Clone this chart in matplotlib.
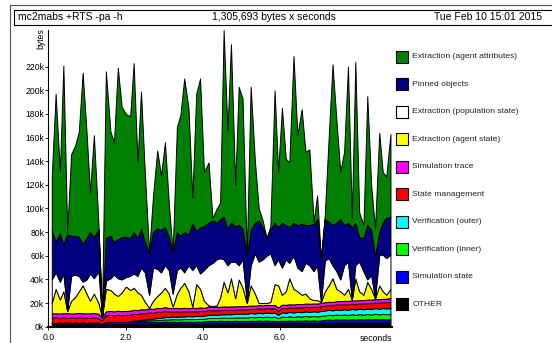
import numpy as np
import matplotlib.pyplot as plt
from matplotlib.patches import Rectangle
from matplotlib.lines import Line2D

plt.rcParams['font.family'] = ['Liberation Sans', 'DejaVu Sans']

# sample times (seconds)
times = [0.09, 0.19, 0.30, 0.39, 0.49, 0.59, 0.69, 0.79, 0.89, 0.99,
         1.08, 1.18, 1.30, 1.39, 1.49, 1.61, 1.70, 1.80, 1.90, 2.01,
         2.12, 2.21, 2.31, 2.40, 2.50, 2.61, 2.71, 2.82, 2.92, 3.02,
         3.12, 3.22, 3.33, 3.42, 3.52, 3.63, 3.73, 3.83, 3.93, 4.03,
         4.15, 4.25, 4.36, 4.45, 4.54, 4.64, 4.73, 4.84, 4.93, 5.03,
         5.14, 5.24, 5.35, 5.45, 5.55, 5.65, 5.75, 5.86, 5.95, 6.05,
         6.15, 6.24, 6.35, 6.45, 6.56, 6.66, 6.76, 6.87, 6.96, 7.06,
         7.16, 7.26, 7.36, 7.46, 7.56, 7.66, 7.76, 7.86, 7.95, 8.05,
         8.16, 8.26, 8.36, 8.46, 8.57, 8.66, 8.75, 8.86]

# small bottom bands, thickness in kbytes
other = [2.0, 2.0, 2.0, 2.0, 2.0, 2.0, 2.0, 2.0, 2.0, 2.0,
         2.0, 2.0, 2.0, 1.5, 2.5, 2.5, 2.5, 2.5, 2.5, 2.5,
         2.5, 2.5, 2.5, 2.5, 2.5, 2.5, 2.5, 2.5, 2.5, 2.5,
         2.5, 2.5, 2.5, 2.5, 2.5, 2.5, 2.5, 2.5, 2.5, 2.5,
         3.0, 3.0, 3.0, 3.0, 3.0, 3.0, 3.0, 3.0, 3.0, 3.0,
         3.0, 3.0, 3.0, 3.0, 3.0, 3.0, 3.0, 3.0, 3.0, 3.0,
         3.0, 3.0, 3.0, 3.0, 3.0, 3.0, 3.0, 3.0, 3.0, 3.0,
         3.5, 3.5, 3.5, 3.5, 3.5, 3.5, 3.5, 3.5, 3.5, 3.5,
         3.5, 3.5, 3.5, 3.5, 3.5, 3.5, 3.5, 3.5]
sim_state = [1.5, 1.0, 1.6, 1.2, 1.8, 1.0, 1.6, 1.2, 1.7, 1.1,
             1.6, 1.2, 1.5, 0.8, 1.5, 1.7, 1.4, 1.8, 1.5, 1.7,
             1.5, 1.8, 1.4, 1.7, 1.5, 1.9, 1.5, 1.8, 1.6, 1.9,
             1.6, 1.9, 1.5, 1.8, 1.6, 1.9, 1.5, 1.8, 1.6, 1.9,
             1.8, 2.0, 1.7, 2.1, 1.8, 2.0, 1.7, 2.1, 1.8, 2.0,
             1.8, 2.1, 1.9, 2.2, 1.9, 2.2, 1.9, 2.0, 1.6, 2.1,
             1.9, 2.2, 1.9, 2.2, 2.0, 2.3, 2.0, 2.3, 2.0, 2.3,
             2.3, 2.6, 2.3, 2.7, 2.4, 2.7, 2.4, 2.8, 2.5, 2.8,
             2.5, 2.8, 2.6, 2.9, 2.6, 2.9, 2.7, 2.7]
verif_inner = [0, 0, 0, 0, 0, 0, 0, 0, 0, 0,
               0, 0, 0, 0, 0, 0, 0, 0, 0, 0,
               0.3, 0.5, 0.7, 0.9, 1.0, 1.2, 1.3, 1.5, 1.6, 1.8,
               1.9, 2.0, 2.2, 2.0, 2.3, 2.1, 2.4, 2.2, 2.5, 2.3,
               2.6, 2.4, 2.7, 2.5, 2.8, 2.6, 2.9, 2.7, 3.0, 2.8,
               3.0, 3.2, 3.0, 3.3, 3.1, 3.4, 3.2, 3.4, 2.6, 3.5,
               3.3, 3.6, 3.4, 3.7, 3.5, 3.8, 3.6, 3.8, 3.7, 3.9,
               3.8, 4.0, 3.9, 4.1, 4.0, 4.2, 4.0, 4.3, 4.1, 4.3,
               4.2, 4.4, 4.2, 4.5, 4.3, 4.5, 4.4, 4.5]
verif_outer = [0, 0, 0, 0, 0, 0, 0, 0, 0, 0,
               0, 0, 0, 0, 0, 0, 0, 0, 0, 0,
               0.2, 0.4, 0.6, 0.8, 1.0, 1.2, 1.4, 1.6, 1.8, 2.0,
               2.1, 2.3, 2.2, 2.4, 2.3, 2.5, 2.4, 2.6, 2.5, 2.7,
               2.6, 2.8, 2.7, 2.9, 2.8, 3.0, 2.9, 3.1, 3.0, 3.2,
               3.1, 3.3, 3.2, 3.4, 3.3, 3.5, 3.4, 3.6, 2.8, 3.6,
               3.5, 3.7, 3.6, 3.8, 3.7, 3.9, 3.8, 4.0, 3.9, 4.1,
               4.0, 4.2, 4.1, 4.3, 4.2, 4.4, 4.3, 4.5, 4.4, 4.6,
               4.5, 4.7, 4.6, 4.8, 4.7, 4.9, 4.8, 5.0]
state_mgmt = [4.0, 5.0, 3.6, 4.8, 3.5, 4.9, 3.7, 5.0, 3.6, 4.8,
              3.8, 4.9, 3.5, 3.0, 5.6, 5.8, 5.6, 5.9, 5.7, 5.9,
              5.6, 5.8, 5.4, 5.6, 5.2, 5.4, 5.0, 5.3, 4.9, 5.2,
              4.6, 4.0, 4.5, 3.9, 4.4, 3.8, 4.3, 3.8, 4.2, 3.7,
              4.1, 3.6, 3.8, 3.5, 3.9, 3.5, 3.8, 3.4, 3.8, 3.5,
              3.8, 3.5, 3.9, 3.6, 3.9, 3.6, 4.0, 3.6, 3.4, 3.7,
              4.0, 3.7, 4.1, 3.7, 4.1, 3.8, 4.2, 3.8, 4.2, 3.9,
              4.3, 4.0, 4.4, 4.2, 4.6, 4.2, 4.7, 4.3, 4.8, 4.4,
              4.9, 4.5, 5.0, 4.6, 5.1, 4.8, 5.3, 5.5]
sim_trace = [3.8, 3.3, 4.0, 3.4, 4.1, 3.3, 4.0, 3.4, 4.0, 3.4,
             3.9, 3.4, 4.0, 2.2, 3.4, 3.3, 3.4, 3.3, 3.4, 3.3,
             3.4, 3.3, 3.4, 3.3, 3.4, 3.3, 3.3, 3.2, 3.3, 3.2,
             3.1, 3.0, 3.1, 3.0, 3.0, 2.9, 3.0, 2.9, 3.0, 2.9,
             3.0, 2.9, 2.9, 2.9, 2.9, 2.9, 2.9, 2.9, 2.8, 2.8,
             2.8, 2.8, 2.8, 2.8, 2.8, 2.8, 2.8, 2.8, 2.8, 2.8,
             2.8, 2.8, 2.8, 2.8, 2.8, 2.8, 2.8, 2.8, 2.8, 2.8,
             2.8, 2.8, 2.8, 2.8, 2.9, 2.9, 2.9, 2.9, 2.9, 2.9,
             3.0, 3.0, 3.0, 3.0, 3.0, 3.0, 3.0, 3.0]

# upper edges of the four big bands (kbytes)
agent_state_top = [20, 32, 23, 30, 13, 22, 25, 30, 35, 28,
                   22, 28, 20, 8, 32, 31, 28, 26, 29, 34,
                   31, 33, 29, 27, 21, 16, 22, 26, 29, 33,
                   28, 17, 28, 33, 37, 30, 17, 36, 32, 22,
                   18, 17.5, 18, 25, 38, 29, 41, 24, 40, 33,
                   20, 35, 28, 20, 20, 20, 21, 36, 35, 27,
                   30, 41, 32, 30, 27, 28, 24, 22.5, 22.5, 21,
                   30, 35, 41, 32, 30, 27, 32, 23, 41, 30,
                   27, 38, 32, 24, 35, 30, 27, 32]
pop_state_top = [40, 46, 38, 45, 13.5, 43, 44, 43, 38, 40,
                 45, 41, 47, 8.3, 39, 41, 44, 41, 40, 42,
                 43, 45, 43, 50, 46, 27, 50, 49, 46, 52,
                 48, 28, 48, 50, 46, 52, 48, 52, 45, 48,
                 52, 54, 57, 58, 57, 52, 55, 55, 52, 57,
                 21, 52, 62, 55, 57, 60, 62, 52, 57, 50,
                 57, 54, 60, 50, 47, 54, 52, 47, 52, 21,
                 56, 58, 52, 47, 40, 52, 55, 23, 52, 55,
                 47, 40, 44, 24, 61, 61, 58, 61]
pinned_top = [81, 72, 79, 70, 78, 77, 77, 76, 70, 75,
              80, 76, 82, 8.6, 75, 77, 72, 74, 76, 76,
              75, 80, 75, 83, 72, 62, 80, 83, 82, 84,
              76, 62, 80, 77, 80, 78, 87, 81, 84, 85,
              88, 90, 88, 91, 93, 83, 88, 85, 86, 83,
              60, 82, 88, 90, 84, 75, 82, 88, 84, 88,
              86, 84, 88, 86, 87, 86, 86, 87, 91, 57,
              91, 89, 86, 88, 91, 86, 88, 84, 88, 76,
              75, 86, 82, 60, 80, 88, 92, 93]
agent_attr_top = [128, 197, 131, 221, 80, 146, 153, 165, 215, 165,
                  114, 162, 86, 9, 216, 165, 156, 219, 186, 180,
                  178, 223, 139, 199, 130, 63, 110, 149, 128, 156,
                  105, 63, 169, 179, 210, 185, 109, 197, 210, 131,
                  139, 92, 100, 105, 251, 166, 239, 120, 203, 193,
                  61, 203, 140, 100, 90, 75, 85, 200, 131, 185,
                  142, 139, 229, 162, 184, 148, 150, 89, 111, 58,
                  95, 160, 222, 175, 131, 148, 220, 92, 224, 97,
                  86, 195, 120, 83, 164, 131, 127, 163]

# legend, top to bottom
labels = ['Extraction (agent attributes)', 'Pinned objects',
          'Extraction (population state)', 'Extraction (agent state)',
          'Simulation trace', 'State management', 'Verification (outer)',
          'Verification (inner)', 'Simulation state', 'OTHER']
colors = ['#008000', '#000080', '#ffffff', '#ffff00', '#ff00ff',
          '#ff0000', '#00ffff', '#00ff00', '#0000ff', '#000000']

W, H = 552, 343
fig = plt.figure(figsize=(W / 100, H / 100), dpi=100)


def fx(px):
    return px / W


def fy(py):
    return 1 - py / H


ax = fig.add_axes([fx(48.3), fy(326.7), fx(392) - fx(48.3), fy(30) - fy(326.7)])

# stack: bottom bands as given, big bands from their upper edges
small = [other, sim_state, verif_inner, verif_outer, state_mgmt, sim_trace]
prev = np.sum(np.array(small), axis=0)
big = []
for top in [agent_state_top, pop_state_top, pinned_top, agent_attr_top]:
    top = np.maximum(np.array(top, dtype=float), prev)
    big.append(top - prev)
    prev = top
series = small + big

ax.stackplot(times, *series, colors=colors[::-1], edgecolor='black', linewidth=0.7)

ax.set_xlim(0, 8.9)
ax.set_ylim(0, 251)
for s in ['top', 'right']:
    ax.spines[s].set_visible(False)
ax.spines['left'].set_linewidth(0.8)
ax.spines['bottom'].set_linewidth(1.5)

yt = list(range(0, 221, 20))
ax.set_yticks(yt)
ax.set_yticklabels([f'{v}k' for v in yt], fontsize=6.2)
ax.set_xticks([0, 2, 4, 6])
ax.set_xticklabels(['0.0', '2.0', '4.0', '6.0'], fontsize=6.2)
ax.tick_params(axis='y', direction='out', length=2, width=0.6, pad=1)
ax.tick_params(axis='x', direction='out', length=2, width=0.6, pad=2.5)

fig.text(fx(40.5), fy(39), 'bytes', rotation=90, ha='center', va='center', fontsize=6.2)
fig.text(fx(392), fy(338.5), 'seconds', ha='right', va='center', fontsize=6.2)

# outer frame and title box
fig.add_artist(Line2D([fx(9.5), fx(9.5)], [fy(4.5), 0], transform=fig.transFigure,
                      color='#555555', lw=0.8))
fig.add_artist(Line2D([fx(9.5), 1], [fy(4.5), fy(4.5)], transform=fig.transFigure,
                      color='#555555', lw=0.8))
fig.add_artist(Rectangle((fx(13.5), fy(24.5)), fx(560) - fx(13.5), fy(9.5) - fy(24.5),
                         transform=fig.transFigure, fill=False, lw=0.8, ec='black'))
fig.text(fx(17.5), fy(17), 'mc2mabs +RTS -pa -h', va='center', fontsize=7.5)
fig.text(fx(212), fy(17), '1,305,693 bytes x seconds', va='center', fontsize=7.5)
fig.text(fx(434), fy(17), 'Tue Feb 10 15:01 2015', va='center', fontsize=7.5)

# legend boxes
for k, (lab, col) in enumerate(zip(labels, colors)):
    yc = 56.7 + 27.5 * k
    fig.add_artist(Rectangle((fx(396), fy(yc + 6)), 12 / W, 12 / H,
                             transform=fig.transFigure, fc=col, ec='black', lw=0.8))
    fig.text(fx(412.5), fy(yc), lab, va='center', fontsize=6.1, color='#222222')

fig.savefig('out.png', dpi=100)
